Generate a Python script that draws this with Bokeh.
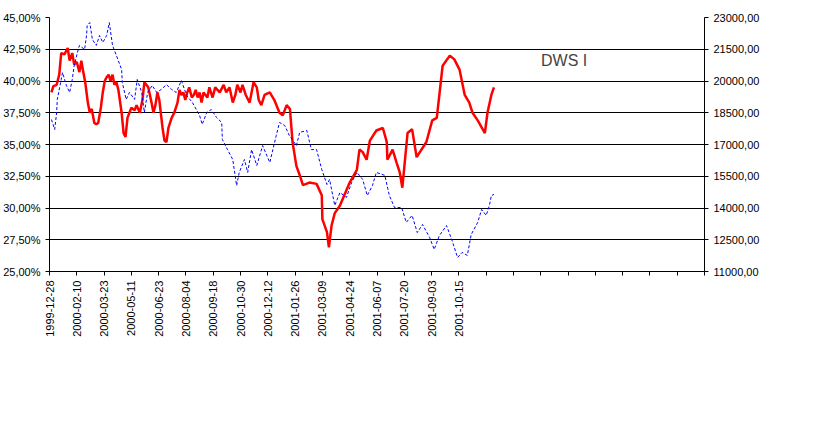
import math
from bokeh.plotting import figure
from bokeh.models import (Range1d, LinearAxis, FixedTicker, Legend, LegendItem, Label)
from bokeh.embed import file_html
from bokeh.resources import INLINE

# red series: day offset from 1999-12-28, % share
red_days = [3,6,11,15,18,23,28,31,35,38,42,46,49,52,55,59,62,65,69,72,75,79,82,85,88,91,94,97,100,103,106,111,114,117,120,123,126,131,134,139,143,146,149,152,157,160,163,166,169,174,177,180,183,188,192,197,200,203,206,209,212,215,219,222,225,228,231,234,237,243,246,251,255,262,268,272,277,282,286,289,294,297,302,308,311,314,319,322,326,331,339,346,354,359,365,370,374,380,385,390,400,411,419,420,427,430,434,439,447,462,473,477,482,488,493,503,513,519,520,528,534,539,543,551,558,565,580,589,596,605,616,623,631,639,646,651,659,670,674,680,684]
red_vals = [39.1,39.6,39.7,40.5,42.2,42.1,42.6,41.6,42.2,41.3,41.5,40.7,41.6,40.7,39.9,38.3,37.5,37.8,36.7,36.6,36.7,37.9,39.1,40.0,40.3,40.5,40.0,40.5,39.7,39.9,39.3,37.5,35.9,35.6,37.1,37.5,37.9,37.7,38.1,37.5,38.5,39.9,39.7,39.5,38.3,37.5,38.1,39.1,38.5,36.3,35.3,35.2,36.3,37.1,37.5,38.3,39.3,38.9,39.1,38.5,39.1,39.5,38.7,38.9,39.3,38.7,39.1,38.3,39.1,38.7,39.5,38.7,39.5,39.1,39.7,39.1,39.5,38.3,38.9,39.7,39.1,39.7,38.9,38.3,39.1,39.9,39.5,38.5,38.1,38.9,39.1,38.5,37.5,37.3,38.1,37.8,35.2,33.3,32.6,31.8,32.0,31.9,31.0,29.1,28.1,26.9,28.6,29.6,30.2,32.0,33.0,34.6,34.4,33.8,35.3,36.1,36.3,35.2,33.8,34.6,33.6,32.8,31.6,35.9,36.2,34.0,35.2,36.9,37.1,41.2,42.0,41.7,40.9,38.9,38.3,37.5,36.9,35.9,37.5,38.9,39.5]

# WIG series: day offset, index value
wig_days = [3,8,11,12,18,20,26,31,35,38,43,46,54,57,58,62,66,72,77,82,88,92,97,103,111,112,118,123,131,135,142,146,151,158,165,172,180,188,195,203,211,220,231,235,242,249,257,265,266,274,282,288,292,300,305,311,319,328,339,349,354,362,369,380,385,396,403,411,419,427,431,439,447,457,465,473,482,489,497,503,516,523,531,542,549,558,566,574,585,592,600,611,619,628,635,643,649,659,665,672,677,680,684]
wig_vals = [18180,17710,18510,19130,20070,20400,19790,19460,20070,20730,21350,21680,21490,22150,22620,22760,21960,21680,22150,21820,22150,22760,21680,21200,20540,19930,19130,19460,19130,20070,19460,18510,19460,19790,19460,19600,19830,19600,19460,20020,19320,18980,18370,17950,18510,18650,18280,18040,17240,16760,16290,15060,15680,16290,15680,16760,16010,16950,16150,17430,18040,17900,17430,16950,17570,17660,16760,16760,15820,15110,15350,14120,14730,14500,15210,15680,15350,14590,15060,15680,15540,14590,14020,14020,13320,13650,12840,13220,12610,12040,12700,13170,12510,11660,11900,11760,12750,13320,13930,13650,14120,14590,14640]

date_labels = ["1999-12-28","2000-02-10","2000-03-23","2000-05-11","2000-06-23","2000-08-04",
               "2000-09-18","2000-10-30","2000-12-12","2001-01-26","2001-03-09","2001-04-24",
               "2001-06-07","2001-07-20","2001-09-03","2001-10-15"]
n_slots = 24
left_ticks = [25.0, 27.5, 30.0, 32.5, 35.0, 37.5, 40.0, 42.5, 45.0]
left_labels = ["25,00%","27,50%","30,00%","32,50%","35,00%","37,50%","40,00%","42,50%","45,00%"]
right_ticks = [11000, 12500, 14000, 15500, 17000, 18500, 20000, 21500, 23000]
right_labels = ["11000,00","12500,00","14000,00","15500,00","17000,00","18500,00","20000,00","21500,00","23000,00"]
red_name = "Średni udział akcji w portfelu z 60 dni sesyjnych - lewa skala"
wig_name = "WIG - prawa skala"
title_text = "DWS I"

FONT = "Liberation Sans"
step = 42
p = figure(frame_width=655, frame_height=254, output_backend="svg", toolbar_location=None,
           x_range=Range1d(0, step * n_slots), y_range=Range1d(25, 45),
           min_border_left=10, min_border_right=10, min_border_top=17, min_border_bottom=10,
           background_fill_color="white", border_fill_color="white")
p.outline_line_color = None
p.extra_y_ranges = {"wig": Range1d(11000, 23000)}

r_red = p.line(red_days, red_vals, line_color="#ff0000", line_width=2.5)
r_wig = p.line(wig_days, wig_vals, y_range_name="wig", line_color="#0000ff",
               line_width=1, line_dash="3 2")

xa = p.xaxis[0]
xa.ticker = FixedTicker(ticks=[i * step for i in range(n_slots + 1)])
xa.major_label_overrides = {i * step: (date_labels[i] if i < len(date_labels) else "")
                            for i in range(n_slots + 1)}
xa.major_label_orientation = math.pi / 2
ya = p.yaxis[0]
ya.ticker = FixedTicker(ticks=left_ticks)
ya.major_label_overrides = {t: l for t, l in zip(left_ticks, left_labels)}
ra = LinearAxis(y_range_name="wig", ticker=FixedTicker(ticks=right_ticks))
ra.major_label_overrides = {t: l for t, l in zip(right_ticks, right_labels)}
p.add_layout(ra, "right")
for ax in (xa, ya, ra):
    ax.axis_line_color = "black"
    ax.major_tick_line_color = "black"
    ax.minor_tick_line_color = None
    ax.major_tick_out = 4
    ax.major_tick_in = 0
    ax.major_label_text_font = FONT
    ax.major_label_text_font_size = "11px"
    ax.major_label_text_color = "black"

p.xgrid.grid_line_color = None
p.ygrid.ticker = FixedTicker(ticks=left_ticks)
p.ygrid.grid_line_color = "black"
p.ygrid.grid_line_alpha = 1.0

p.add_layout(Label(x=792, y=41.6, text=title_text, text_font=FONT, text_font_size="16px",
                   text_align="center", text_baseline="middle"))

legend = Legend(items=[LegendItem(label=red_name, renderers=[r_red]),
                       LegendItem(label=wig_name, renderers=[r_wig])],
                orientation="horizontal", spacing=150, glyph_width=40,
                label_text_font=FONT, label_text_font_size="12px",
                border_line_color="black", border_line_width=1,
                padding=8, margin=6, location="center")
p.add_layout(legend, "below")

open("out.html", "w").write(file_html(p, INLINE))
